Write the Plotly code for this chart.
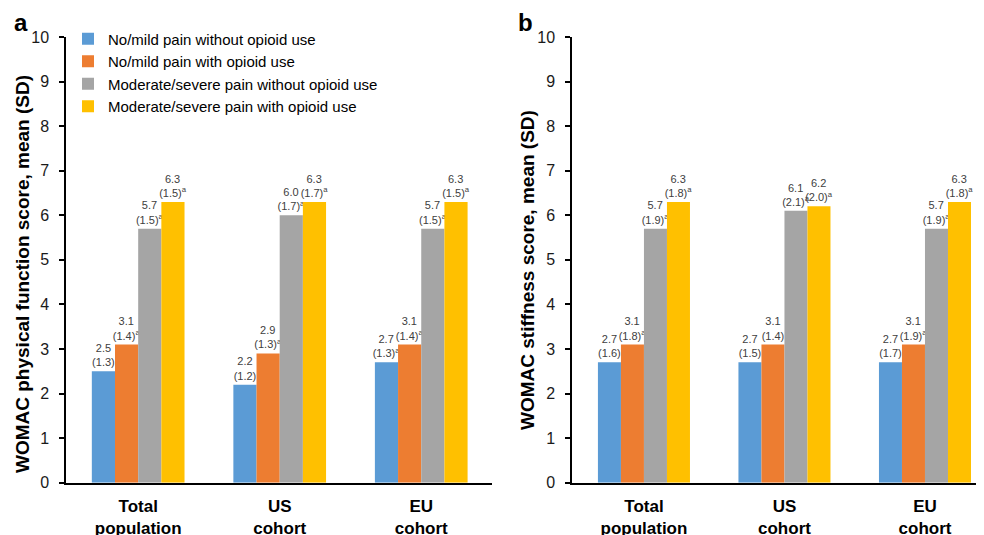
import plotly.graph_objects as go

categories = ["Total<br>population", "US<br>cohort", "EU<br>cohort"]
series_names = [
    "No/mild pain without opioid use",
    "No/mild pain with opioid use",
    "Moderate/severe pain without opioid use",
    "Moderate/severe pain with opioid use",
]
colors = ["#5B9BD5", "#ED7D31", "#A5A5A5", "#FFC000"]

# Panel a: WOMAC physical function
func_nomild_noop = [2.5, 2.2, 2.7]
func_nomild_noop_sd = [1.3, 1.2, 1.3]
func_nomild_noop_sig = [False, False, True]
func_nomild_op = [3.1, 2.9, 3.1]
func_nomild_op_sd = [1.4, 1.3, 1.4]
func_nomild_op_sig = [True, True, True]
func_modsev_noop = [5.7, 6.0, 5.7]
func_modsev_noop_sd = [1.5, 1.7, 1.5]
func_modsev_noop_sig = [True, True, True]
func_modsev_op = [6.3, 6.3, 6.3]
func_modsev_op_sd = [1.5, 1.7, 1.5]
func_modsev_op_sig = [True, True, True]

# Panel b: WOMAC stiffness
stiff_nomild_noop = [2.7, 2.7, 2.7]
stiff_nomild_noop_sd = [1.6, 1.5, 1.7]
stiff_nomild_noop_sig = [False, False, False]
stiff_nomild_op = [3.1, 3.1, 3.1]
stiff_nomild_op_sd = [1.8, 1.4, 1.9]
stiff_nomild_op_sig = [True, False, True]
stiff_modsev_noop = [5.7, 6.1, 5.7]
stiff_modsev_noop_sd = [1.9, 2.1, 1.9]
stiff_modsev_noop_sig = [True, True, True]
stiff_modsev_op = [6.3, 6.2, 6.3]
stiff_modsev_op_sd = [1.8, 2.0, 1.8]
stiff_modsev_op_sig = [True, True, True]

y_ticks = [0, 1, 2, 3, 4, 5, 6, 7, 8, 9, 10]

panel_a = [
    (func_nomild_noop, func_nomild_noop_sd, func_nomild_noop_sig),
    (func_nomild_op, func_nomild_op_sd, func_nomild_op_sig),
    (func_modsev_noop, func_modsev_noop_sd, func_modsev_noop_sig),
    (func_modsev_op, func_modsev_op_sd, func_modsev_op_sig),
]
panel_b = [
    (stiff_nomild_noop, stiff_nomild_noop_sd, stiff_nomild_noop_sig),
    (stiff_nomild_op, stiff_nomild_op_sd, stiff_nomild_op_sig),
    (stiff_modsev_noop, stiff_modsev_noop_sd, stiff_modsev_noop_sig),
    (stiff_modsev_op, stiff_modsev_op_sd, stiff_modsev_op_sig),
]

FONT = "Arial, Liberation Sans, sans-serif"
xs = list(range(len(categories)))

# page has an 8px body margin: figure is 976x527 placed at (8, 8)
W, H = 976, 527
OFF = 8


def px(X):
    return (X - OFF) / W


def py(Y):
    return 1 - (Y - OFF) / H


def labels(means, sds, sigs):
    out = []
    for m, s, g in zip(means, sds, sigs):
        t = f"{m:.1f}<br>({s:.1f})"
        if g:
            t += "<sup>a</sup>"
        out.append(t)
    return out


fig = go.Figure()
for panel, (xa, ya, show) in zip([panel_a, panel_b], [("x", "y", True), ("x2", "y2", False)]):
    for (means, sds, sigs), name, col in zip(panel, series_names, colors):
        fig.add_trace(go.Bar(
            x=xs, y=means, name=name, marker=dict(color=col, line=dict(width=0)),
            text=labels(means, sds, sigs), textposition="outside",
            constraintext="none", cliponaxis=False,
            textfont=dict(family=FONT, size=11, color="#404040"),
            xaxis=xa, yaxis=ya, showlegend=show, hoverinfo="skip",
        ))

ydom = [py(482.7), py(37)]
xaxis_common = dict(
    tickvals=xs, ticktext=categories, showline=True, linecolor="black", linewidth=1.5,
    ticks="", showgrid=False, zeroline=False, automargin=False,
    tickfont=dict(family=FONT, size=17, color="black", weight="bold"),
    ticklabelstandoff=7,
)
yaxis_common = dict(
    range=[0, 10], tickvals=y_ticks, showline=True, linecolor="black", linewidth=1.5,
    ticks="outside", ticklen=5, tickwidth=1.5, tickcolor="black", showgrid=False,
    zeroline=False, automargin=False, tickfont=dict(family=FONT, size=16, color="#1a1a1a"),
    domain=ydom, ticklabelstandoff=7,
)

fig.update_layout(
    width=W, height=H, margin=dict(l=0, r=0, t=0, b=0, pad=0),
    paper_bgcolor="white", plot_bgcolor="white",
    barmode="group", bargap=0.345, bargroupgap=0,
    xaxis=dict(xaxis_common, domain=[px(66), px(492)], range=[-0.51, 2.5], anchor="y"),
    yaxis=dict(yaxis_common, anchor="x"),
    xaxis2=dict(xaxis_common, domain=[px(572), 1.0], range=[-0.512, 2.42], anchor="y2"),
    yaxis2=dict(yaxis_common, anchor="x2"),
    legend=dict(x=px(68), y=py(22.5), xanchor="left", yanchor="top",
                font=dict(family=FONT, size=15, color="black"), bgcolor="rgba(0,0,0,0)",
                tracegroupgap=0),
    font=dict(family=FONT),
    annotations=[
        dict(text="<b>a</b>", x=px(21), y=py(22), xref="paper", yref="paper",
             xanchor="center", yanchor="middle",
             showarrow=False, font=dict(family=FONT, size=24, color="black")),
        dict(text="<b>b</b>", x=px(525), y=py(22), xref="paper", yref="paper",
             xanchor="center", yanchor="middle",
             showarrow=False, font=dict(family=FONT, size=24, color="black")),
        dict(text="<b>WOMAC physical function score, mean (SD)</b>", textangle=-90,
             x=px(22), y=py(274), xref="paper", yref="paper", showarrow=False,
             xanchor="center", yanchor="middle",
             font=dict(family=FONT, size=19, color="black")),
        dict(text="<b>WOMAC stiffness score, mean (SD)</b>", textangle=-90,
             x=px(528), y=py(270), xref="paper", yref="paper", showarrow=False,
             xanchor="center", yanchor="middle",
             font=dict(family=FONT, size=19, color="black")),
    ],
)

fig.write_html("out.html")
